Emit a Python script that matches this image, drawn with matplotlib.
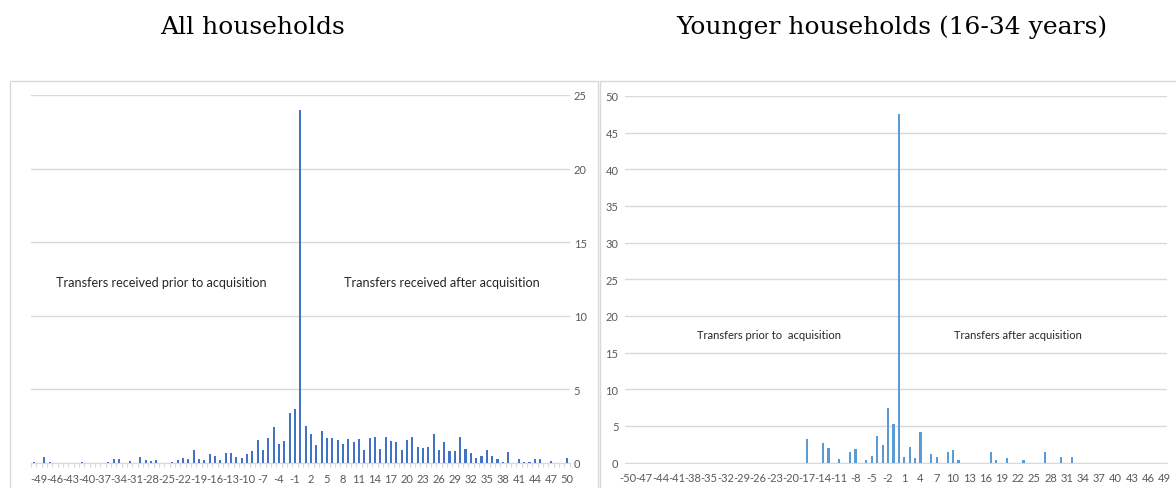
import matplotlib
matplotlib.use('Agg')
import matplotlib.pyplot as plt
from matplotlib.patches import Rectangle
import numpy as np

plt.rcParams['axes.unicode_minus'] = False

# Data: share of transfers by year relative to acquisition (year 0)
all_years = list(range(-50, 51))
all_vals = [0.07, 0, 0.4, 0.07, 0, 0, 0, 0, 0, 0.07,
            0, 0, 0, 0, 0.1, 0.3, 0.3, 0, 0.15, 0,
            0.4, 0.2, 0.15, 0.22, 0, 0, 0.1, 0.2, 0.35, 0.3,
            0.85, 0.3, 0.18, 0.6, 0.5, 0.18, 0.68, 0.65, 0.4, 0.32,
            0.6, 0.8, 1.55, 0.85, 1.7, 2.45, 1.3, 1.5, 3.4, 3.7,
            24.0,
            2.5, 2.0, 1.25, 2.2, 1.7, 1.73, 1.57, 1.32, 1.66, 1.45,
            1.6, 0.85, 1.73, 1.77, 0.93, 1.8, 1.52, 1.45, 0.85, 1.57,
            1.75, 1.07, 1.05, 1.1, 2.0, 0.9, 1.4, 0.82, 0.82, 1.8,
            0.93, 0.7, 0.36, 0.48, 0.85, 0.48, 0.3, 0.07, 0.73, 0,
            0.27, 0.09, 0.07, 0.27, 0.27, 0, 0.14, 0, 0, 0.36]

young_years = list(range(-50, 50))
young_nonzero_years = [-17, -14, -13, -11, -9, -8, -6, -5, -4, -3, -2, -1, 0,
                       1, 2, 3, 4, 6, 7, 9, 10, 11, 17, 18, 20, 23, 27, 30, 32]
young_nonzero_vals = [3.2, 2.7, 1.95, 0.45, 1.5, 1.9, 0.3, 0.95, 3.55, 2.45, 7.5, 5.2, 47.6,
                      0.8, 2.1, 0.65, 4.2, 1.1, 0.75, 1.5, 1.65, 0.35, 1.5, 0.3, 0.55, 0.3, 1.4, 0.75, 0.7]
young_vals = [0.0] * len(young_years)
for yr, v in zip(young_nonzero_years, young_nonzero_vals):
    young_vals[young_years.index(yr)] = v

W, H = 1176, 489
fig = plt.figure(figsize=(W / 100, H / 100), dpi=100)

tick_col = '#595959'
grid_col = '#d9d9d9'
sans = ['Lato', 'DejaVu Sans']

# outer chart frames
fig.patches.append(Rectangle((10 / W, -0.02), 588 / W, 1 - 82 / H + 0.02,
                             transform=fig.transFigure, fill=False, ec=grid_col, lw=1))
fig.patches.append(Rectangle((600 / W, -0.02), 600 / W, 1 - 82 / H + 0.02,
                             transform=fig.transFigure, fill=False, ec=grid_col, lw=1))

# titles
fig.text(253 / W, 1 - 27 / H, 'All households', ha='center', va='center',
         fontsize=18, family='DejaVu Serif')
fig.text(892 / W, 1 - 27 / H, 'Younger households (16-34 years)', ha='center', va='center',
         fontsize=18, family='DejaVu Serif')

# left chart
ax1 = fig.add_axes([31.1 / W, (H - 464) / H, 538.4 / W, 368 / H])
ax1.bar(all_years, all_vals, width=0.4, color='#4472C4', zorder=3)
ax1.set_xlim(-50.5, 50.5)
ax1.set_ylim(0, 25)
ax1.set_yticks(range(0, 26, 5))
ax1.yaxis.tick_right()
ax1.grid(axis='y', color=grid_col, lw=1, zorder=0)
ax1.set_xticks(range(-49, 51, 3))
ax1.set_xticks(np.arange(-50.5, 51, 1), minor=True)
ax1.tick_params(axis='x', which='major', length=0, pad=7, labelsize=8, labelcolor=tick_col)
ax1.tick_params(axis='x', which='minor', length=3, color=grid_col, width=0.8)
ax1.tick_params(axis='y', length=0, pad=3, labelsize=8, labelcolor=tick_col)
for s in ['top', 'left', 'right']:
    ax1.spines[s].set_visible(False)
ax1.spines['bottom'].set_color(grid_col)
for lab in ax1.get_xticklabels() + ax1.get_yticklabels():
    lab.set_family(sans)
ax1.text(-26, 12.3, 'Transfers received prior to acquisition', ha='center', va='center',
         fontsize=9.1, family=sans, color='#262626')
ax1.text(26.5, 12.3, 'Transfers received after acquisition', ha='center', va='center',
         fontsize=9.1, family=sans, color='#262626')

# right chart
ax2 = fig.add_axes([625.3 / W, (H - 463.5) / H, 541.7 / W, 366.5 / H])
ax2.bar(young_years, young_vals, width=0.4, color='#5B9BD5', zorder=3)
ax2.set_xlim(-50.5, 49.5)
ax2.set_ylim(0, 50)
ax2.set_yticks(range(0, 51, 5))
ax2.grid(axis='y', color=grid_col, lw=1, zorder=0)
ax2.set_xticks(range(-50, 50, 3))
ax2.tick_params(axis='x', length=0, pad=7, labelsize=8, labelcolor=tick_col)
ax2.tick_params(axis='y', length=0, pad=5, labelsize=8, labelcolor=tick_col)
for s in ['top', 'left', 'right']:
    ax2.spines[s].set_visible(False)
ax2.spines['bottom'].set_color(grid_col)
for lab in ax2.get_xticklabels() + ax2.get_yticklabels():
    lab.set_family(sans)
ax2.text(-24, 17.5, 'Transfers prior to  acquisition', ha='center', va='center',
         fontsize=8, family=sans, color='#262626')
ax2.text(22, 17.5, 'Transfers after acquisition', ha='center', va='center',
         fontsize=8, family=sans, color='#262626')

fig.savefig('out.png', dpi=100)
